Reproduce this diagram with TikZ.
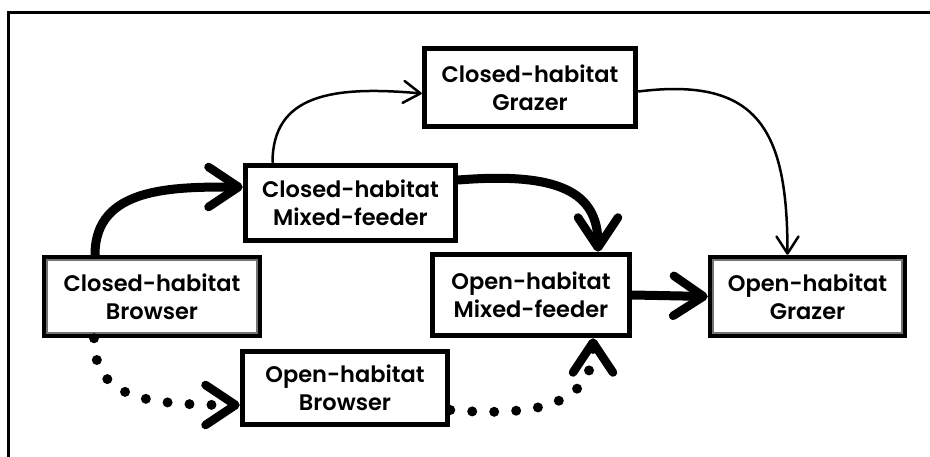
\documentclass[tikz,border=0pt]{standalone}
\usepackage{fontspec}
\setmainfont{Poppins}[BoldFont={* SemiBold}]
\usetikzlibrary{arrows.meta}

\tikzset{
  stage/.style={draw=black, line width=5.5pt, fill=white, align=center,
    inner sep=0pt, font=\fontsize{22.5}{28}\selectfont\bfseries},
  heavy/.style={line width=9pt, line cap=round,
    -{Straight Barb[length=30pt, width=40pt, line width=8.5pt, round]}},
  light/.style={line width=2.5pt,
    -{Straight Barb[length=17pt, width=22pt, line width=2.5pt, round]}},
  dotpath/.style={line width=10pt, line cap=round,
    dash pattern=on 0pt off 22pt,
    -{Straight Barb[length=30pt, width=40pt, line width=8.5pt, round]}},
}

\begin{document}
\begin{tikzpicture}[x=1pt, y=-1pt]
\useasboundingbox (0,0) rectangle (930,457);

% open frame: top edge and left edge only
\draw[line width=3pt] (930,13) -- (8,13) -- (8,457);

% stages of the feeding/habitat sequence
\node[stage, minimum width=211pt, minimum height=78pt] (cg)  at (530,87.5)  {Closed-habitat\\Grazer};
\node[stage, minimum width=210pt, minimum height=75pt] (cmf) at (350.5,203) {Closed-habitat\\Mixed-feeder};
\node[stage, minimum width=215pt, minimum height=78pt] (cb)  at (152,296.5) {Closed-habitat\\Browser};
\node[stage, minimum width=197pt, minimum height=81pt] (omf) at (531,295)   {Open-habitat\\Mixed-feeder};
\node[stage, minimum width=194pt, minimum height=78pt] (og)  at (807.5,296.5) {Open-habitat\\Grazer};
\node[stage, minimum width=205pt, minimum height=73pt] (ob)  at (345,388)   {Open-habitat\\Browser};

% inner grey rule for the two end-point stages
\foreach \n in {cb, og}
  \draw[black!55, line width=1.6pt]
    ([shift={(5.5,5.5)}]\n.north west) rectangle ([shift={(-5.5,-5.5)}]\n.south east);

% main pathway (heavy arrows)
\draw[heavy] ([xshift=-57pt]cb.north) .. controls +(0,-68) and +(-70,0) .. ([yshift=16pt]cmf.west);
\draw[heavy] ([yshift=23pt]cmf.east) .. controls +(100,-8) and +(0,-60) .. ([xshift=67pt]omf.north);
\draw[heavy] (omf.east) -- (og.west);

% alternative pathway through grazing in closed habitat
\draw[light] ([xshift=-78pt]cmf.north) .. controls +(0,-68) and +(-90,-8) .. ([yshift=-6pt]cg.west);
\draw[light] ([yshift=-4pt]cg.east) .. controls +(120,-15) and +(0,-125) .. ([xshift=-20pt]og.north);

% alternative pathway through browsing in open habitat (dotted)
\draw[dotpath] ([xshift=-58pt]cb.south) .. controls +(0,60) and +(-95,0) .. ([yshift=-17pt]ob.west);
\draw[dotpath] ([yshift=-22pt]ob.east) .. controls +(95,8) and +(0,62) .. ([xshift=62pt]omf.south);
\end{tikzpicture}
\end{document}
